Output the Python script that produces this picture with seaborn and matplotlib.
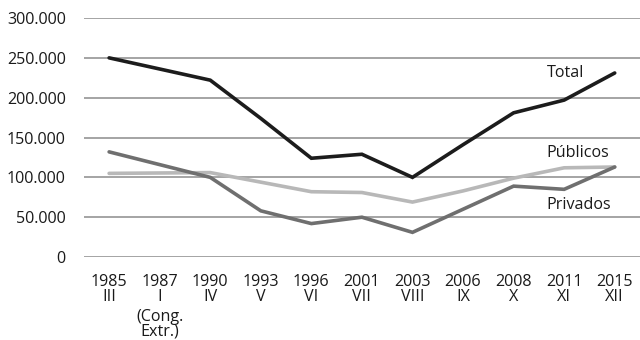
import matplotlib
matplotlib.use("Agg")
import matplotlib.pyplot as plt
import matplotlib.transforms as mtransforms
import seaborn as sns
import pandas as pd

# Legislative periods (year + legislature)
years = ["1985", "1987", "1990", "1993", "1996", "2001", "2003", "2006", "2008", "2011", "2015"]
legislatures = ["III", "I", "IV", "V", "VI", "VII", "VIII", "IX", "X", "XI", "XII"]
extra_note = "(Cong.\nExtr.)"
extra_note_idx = 1

total = [250000, 236000, 222000, 174000, 124000, 129000, 100000, 141000, 181000, 197000, 231000]
publicos = [105000, 105500, 106000, 94000, 82000, 81000, 69000, 83000, 99000, 112000, 113000]
privados = [132000, 116000, 100000, 58000, 42000, 50000, 31000, 60000, 89000, 85000, 113000]

series_names = ["Total", "Públicos", "Privados"]
colors = {"Total": "#1c1c1c", "Públicos": "#b8b8b8", "Privados": "#6f6f6f"}

rows = []
for name, vals in zip(series_names, [total, publicos, privados]):
    for i, v in enumerate(vals):
        rows.append({"idx": i, "valor": v, "serie": name})
df = pd.DataFrame(rows)

sns.set_style("white")
plt.rcParams["font.family"] = ["Open Sans", "DejaVu Sans"]

fs = 11.6
fig = plt.figure(figsize=(6.4, 3.4), dpi=100)
ax = fig.add_axes([0.131, 0.244, 0.869, 0.703])

sns.lineplot(data=df, x="idx", y="valor", hue="serie", palette=colors,
             hue_order=["Públicos", "Privados", "Total"], linewidth=2.6,
             legend=False, ax=ax)
for line in ax.get_lines():
    line.set_solid_joinstyle("miter")

ax.set_ylim(0, 300000)
ax.set_xlim(-0.5, len(years) - 0.5)
ax.set_yticks(range(0, 300001, 50000))
ax.set_yticklabels(["0" if v == 0 else f"{v // 1000}.000" for v in range(0, 300001, 50000)],
                   fontsize=fs, color="#1a1a1a")
ax.set_xticks(range(len(years)))
ax.set_xticklabels([f"{y}\n{l}" for y, l in zip(years, legislatures)],
                   fontsize=fs, color="#1a1a1a", linespacing=0.9)
ax.tick_params(axis="both", length=0)
ax.tick_params(axis="y", pad=13)
ax.tick_params(axis="x", pad=12)
ax.set_xlabel("")
ax.set_ylabel("")

# Note under the extraordinary session's tick label
trans = mtransforms.blended_transform_factory(ax.transData, fig.transFigure)
ax.text(extra_note_idx, 1 - 309 / 340, extra_note, transform=trans, fontsize=fs,
        color="#1a1a1a", ha="center", va="top", linespacing=0.9)

ax.grid(axis="y", color="#8c8c8c", linewidth=1.1)
ax.set_axisbelow(True)
for s in ax.spines.values():
    s.set_visible(False)

# Series labels placed next to the right end of each line
ax.text(8.65, 231000, "Total", fontsize=fs, color="#1a1a1a", va="center", ha="left")
ax.text(8.65, 130500, "Públicos", fontsize=fs, color="#1a1a1a", va="center", ha="left")
ax.text(8.65, 65000, "Privados", fontsize=fs, color="#1a1a1a", va="center", ha="left")

fig.savefig("out.png", dpi=100)
